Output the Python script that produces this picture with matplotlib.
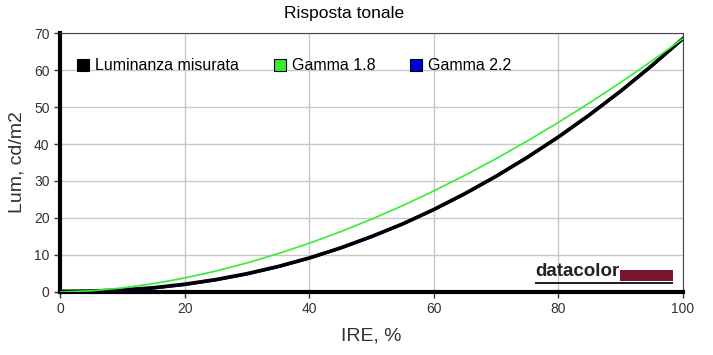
import matplotlib.pyplot as plt
from matplotlib.patches import Rectangle

plt.rcParams['font.family'] = ['Liberation Sans', 'DejaVu Sans']

# IRE steps and luminance readings (cd/m2)
ire = [0, 5, 10, 15, 20, 25, 30, 35, 40, 45, 50, 55, 60, 65, 70, 75, 80, 85, 90, 95, 100]
lum_measured = [0.15, 0.25, 0.55, 1.15, 2.1, 3.35, 4.95, 6.9, 9.2, 11.9, 15.0, 18.4, 22.3, 26.6, 31.3, 36.4, 41.9, 47.9, 54.3, 61.2, 68.5]
lum_gamma18 = [0.0, 0.31, 1.09, 2.25, 3.78, 5.65, 7.84, 10.35, 13.17, 16.28, 19.67, 23.35, 27.32, 31.55, 36.04, 40.81, 45.85, 51.13, 56.66, 62.46, 68.5]
lum_gamma22 = [0.0, 0.09, 0.43, 1.05, 1.99, 3.25, 4.84, 6.80, 9.13, 11.82, 14.91, 18.38, 22.26, 26.55, 31.26, 36.38, 41.93, 47.91, 54.33, 61.19, 68.5]

labels = ['Luminanza misurata', 'Gamma 1.8', 'Gamma 2.2']
colors = ['#000000', '#33ee33', '#0000dd']

fig = plt.figure(figsize=(7.13, 3.55), dpi=100)
ax = fig.add_axes([0.0842, 0.1775, 0.8738, 0.7295])

ax.plot(ire, lum_gamma22, color=colors[2], lw=2.2, zorder=3)
ax.plot(ire, lum_measured, color=colors[0], lw=2.6, zorder=4)
ax.plot(ire, lum_gamma18, color=colors[1], lw=1.2, zorder=5)

ax.set_xlim(0, 100)
ax.set_ylim(0, 70)
ax.set_xticks(range(0, 101, 20))
ax.set_yticks(range(0, 71, 10))
ax.grid(True, color='#c8c8c8', lw=1)
ax.set_axisbelow(True)

ax.spines['left'].set_linewidth(3)
ax.spines['bottom'].set_linewidth(3)
ax.spines['top'].set_color('#444444')
ax.spines['right'].set_color('#444444')
ax.spines['top'].set_linewidth(0.8)
ax.spines['right'].set_linewidth(0.8)
ax.tick_params(axis='both', labelsize=10, colors='#333333', length=4, width=1)

fig.text(0.482, 0.962, 'Risposta tonale', fontsize=12.5, ha='center', va='center')
ax.set_xlabel('IRE, %', fontsize=14, color='#333333', labelpad=8)
ax.set_ylabel('Lum, cd/m2', fontsize=14, color='#333333', labelpad=6)

# legend row inside plot
handles = [Rectangle((0, 0), 1, 1, facecolor=c, edgecolor='black', lw=0.8) for c in colors]
ax.legend(handles, labels, loc='upper left', bbox_to_anchor=(0.01, 0.945), ncol=3,
          frameon=False, fontsize=11.5, handlelength=0.75, handleheight=0.75,
          handletextpad=0.35, columnspacing=2.2, borderaxespad=0.3)

# datacolor logo
fig.text(0.750, 0.212, 'datacolor', fontsize=13.5, fontweight='bold', color='#222222',
         ha='left', va='bottom')
fig.add_artist(Rectangle((0.750, 0.200), 0.194, 0.006, transform=fig.transFigure,
                         facecolor='#222222', edgecolor='none'))
fig.add_artist(Rectangle((0.8696, 0.209), 0.075, 0.031, transform=fig.transFigure,
                         facecolor='#7a1530', edgecolor='none'))

fig.savefig('out.png', dpi=100)
